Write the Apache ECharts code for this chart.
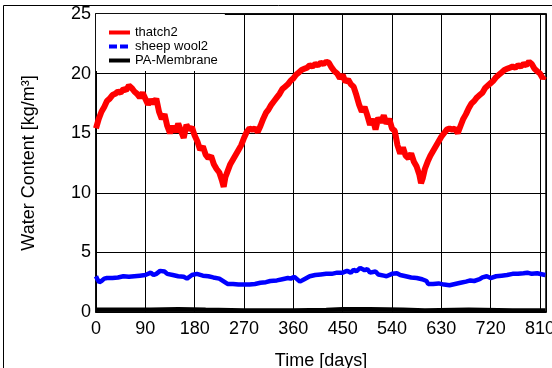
<!DOCTYPE html>
<html>
<head>
<meta charset="utf-8">
<script src="https://cdn.jsdelivr.net/npm/echarts@6/dist/echarts.min.js"></script>
<style>html,body{margin:0;padding:0;background:#fff}#c{width:552px;height:368px}</style>
</head>
<body>
<div id="c"></div>
<script>
const xTitle = 'Time [days]';
const yTitle = 'Water Content [kg/m³]';
const seriesNames = ['thatch2', 'sheep wool2', 'PA-Membrane'];
const xMin = 0, xMax = 821, xStep = 90;
const yMin = 0, yMax = 25, yStep = 5;

// [day, kg/m3]
const thatch2 = [
[0,15.4],[5,16.2],[10,16.8],[15,17.2],[20,17.7],[25,17.9],[30,18.2],[35,18.3],[40,18.5],[45,18.4],
[50,18.7],[55,18.6],[60,19.0],[65,18.8],[70,18.5],[75,18.3],[80,18.0],[85,18.4],[90,17.9],[95,17.4],
[100,17.8],[105,17.5],[110,17.9],[115,16.8],[120,16.2],[125,16.6],[130,15.6],[135,15.0],[140,15.6],[145,15.1],
[150,15.8],[155,15.2],[160,14.6],[165,15.7],[170,15.3],[175,15.5],[180,14.8],[185,14.3],[190,13.6],[195,13.9],
[200,13.2],[205,12.9],[210,13.1],[215,12.4],[220,12.0],[225,11.7],[230,11.0],[233,10.5],[236,11.3],[240,11.8],
[245,12.4],[250,12.8],[255,13.2],[260,13.6],[265,14.0],[270,14.6],[275,15.1],[280,15.4],[285,15.3],[290,15.4],
[295,15.1],[300,15.6],[305,16.2],[310,16.7],[315,17.0],[320,17.4],[325,17.7],[330,18.0],[335,18.3],[340,18.7],
[345,18.9],[350,19.1],[355,19.4],[360,19.6],[365,19.9],[370,20.1],[375,20.3],[380,20.4],[385,20.5],[390,20.7],
[395,20.6],[400,20.8],[405,20.7],[410,20.9],[415,20.8],[420,21.0],[425,20.9],[430,20.5],[435,20.2],[440,20.0],
[445,19.6],[450,19.9],[455,19.3],[460,19.5],[465,19.1],[470,18.9],[475,18.2],[480,17.4],[485,16.8],[490,17.2],
[495,16.5],[500,15.7],[505,16.2],[510,15.3],[515,16.3],[520,15.9],[525,16.5],[530,15.8],[535,16.2],[540,15.4],
[545,15.2],[550,14.0],[555,13.3],[560,13.8],[565,13.1],[570,12.9],[575,13.3],[580,12.6],[585,12.2],[590,11.5],
[593,10.8],[596,11.2],[600,12.0],[605,12.6],[610,13.1],[615,13.5],[620,13.9],[625,14.3],[630,14.7],[635,15.0],
[640,15.3],[645,15.4],[650,15.3],[655,15.4],[660,15.0],[665,15.6],[670,16.2],[675,16.6],[680,17.1],[685,17.5],
[690,17.7],[695,18.0],[700,18.2],[705,18.4],[710,18.8],[715,19.0],[720,19.2],[725,19.4],[730,19.7],[735,19.9],
[740,20.1],[745,20.3],[750,20.4],[755,20.5],[760,20.6],[765,20.5],[770,20.7],[775,20.6],[780,20.8],[785,20.7],
[790,21.0],[795,20.8],[800,20.4],[805,20.2],[810,20.0],[815,19.6],[818,19.8]
];
const sheepWool2 = [
[0,3.0],[3,2.7],[6,2.5],[10,2.6],[15,2.8],[20,2.85],[30,2.85],[40,2.9],[50,3.0],[60,2.95],
[70,3.0],[80,3.05],[90,3.1],[100,3.3],[105,3.1],[110,3.2],[117,3.45],[125,3.4],[130,3.2],[140,3.1],
[150,3.0],[160,2.95],[166,2.8],[175,3.1],[184,3.2],[195,3.05],[205,3.0],[214,2.9],[225,2.8],[235,2.5],
[240,2.35],[250,2.35],[260,2.3],[270,2.3],[280,2.3],[290,2.35],[300,2.45],[310,2.5],[318,2.6],[330,2.65],
[340,2.75],[350,2.85],[355,2.8],[362,2.95],[372,2.55],[380,2.75],[390,3.0],[400,3.1],[410,3.15],[420,3.2],
[430,3.2],[440,3.3],[450,3.3],[458,3.45],[465,3.3],[470,3.55],[475,3.4],[482,3.7],[490,3.5],[495,3.6],
[500,3.3],[510,3.4],[515,3.15],[525,3.05],[530,3.0],[540,3.2],[549,3.25],[555,3.1],[565,3.0],[575,2.9],
[585,2.85],[595,2.75],[603,2.6],[606,2.35],[615,2.35],[625,2.4],[635,2.3],[645,2.25],[655,2.35],[665,2.45],
[675,2.55],[683,2.65],[690,2.6],[700,2.75],[705,2.9],[713,3.0],[720,2.85],[730,3.0],[740,3.05],[750,3.1],
[760,3.2],[770,3.2],[780,3.25],[787,3.3],[795,3.2],[805,3.25],[815,3.15],[820,3.1]
];
const paMembrane = [
[0,0.2],[50,0.2],[100,0.22],[150,0.25],[200,0.2],[270,0.15],[360,0.15],[420,0.18],[450,0.25],
[500,0.25],[560,0.2],[600,0.15],[680,0.2],[760,0.15],[820,0.15]
];

const chart = echarts.init(document.getElementById('c'), null, {renderer: 'canvas'});
const font = 'Liberation Sans, Arial, sans-serif';
chart.setOption({
  animation: false,
  backgroundColor: '#fff',
  graphic: [{
    type: 'rect', z: -10, silent: true,
    shape: {x: 3.5, y: 5.5, width: 700, height: 500},
    style: {fill: 'none', stroke: '#000', lineWidth: 1}
  }],
  grid: {left: 96, top: 14, right: 6, bottom: 56, outerBoundsMode: 'none', containLabel: false,
         show: true, borderColor: '#000', borderWidth: 1.5, backgroundColor: 'transparent'},
  legend: {
    left: 96, top: 14, orient: 'vertical',
    backgroundColor: '#fff', borderWidth: 0,
    padding: [12, 7, 4, 11],
    itemWidth: 21, itemHeight: 14, itemGap: 1,
    itemStyle: {opacity: 0},
    textStyle: {fontFamily: font, fontSize: 13, color: '#000'},
    data: [
      {name: seriesNames[0], itemStyle: {opacity: 0}, lineStyle: {width: 4, opacity: 1}},
      {name: seriesNames[1], itemStyle: {opacity: 0}, lineStyle: {width: 4, opacity: 1, type: [8, 3]}},
      {name: seriesNames[2], itemStyle: {opacity: 0}, lineStyle: {width: 4, opacity: 1}}
    ]
  },
  xAxis: [{
    type: 'value', min: xMin, max: xMax, interval: xStep,
    name: xTitle, nameLocation: 'middle', nameGap: 40,
    nameTextStyle: {fontFamily: font, fontSize: 18, color: '#000'},
    axisLine: {show: true, lineStyle: {color: '#000', width: 1.5}},
    axisTick: {show: true, inside: true, length: 5, lineStyle: {color: '#000'}},
    axisLabel: {fontFamily: font, fontSize: 18, color: '#000', margin: 8, showMaxLabel: false},
    splitLine: {show: true, lineStyle: {color: '#000', width: 1}}
  }, {
    type: 'value', position: 'top', min: xMin, max: xMax, interval: xStep,
    axisLine: {show: true, lineStyle: {color: '#000', width: 1.5}},
    axisTick: {show: true, inside: true, length: 6, lineStyle: {color: '#000'}},
    axisLabel: {show: false}, splitLine: {show: false}
  }],
  yAxis: [{
    type: 'value', min: yMin, max: yMax, interval: yStep,
    name: yTitle, nameLocation: 'middle', nameGap: 58,
    nameTextStyle: {fontFamily: font, fontSize: 18, color: '#000'},
    axisLine: {show: true, lineStyle: {color: '#000', width: 1.5}},
    axisTick: {show: true, inside: true, length: 5, lineStyle: {color: '#000'}},
    axisLabel: {fontFamily: font, fontSize: 18, color: '#000', margin: 5},
    splitLine: {show: true, lineStyle: {color: '#000', width: 1}}
  }],
  series: [
    {name: seriesNames[2], type: 'line', data: paMembrane, showSymbol: false, symbol: 'none', z: 3,
     lineStyle: {color: '#000', width: 4}, itemStyle: {color: '#000'}},
    {name: seriesNames[1], type: 'line', data: sheepWool2, showSymbol: false, symbol: 'none', z: 4,
     lineStyle: {color: '#0000ff', width: 4.5}, itemStyle: {color: '#0000ff'}},
    {name: seriesNames[0], type: 'line', data: thatch2, showSymbol: false, symbol: 'none', z: 5,
     lineStyle: {color: '#ff0000', width: 6}, itemStyle: {color: '#ff0000'}}
  ]
});
</script>
</body>
</html>
